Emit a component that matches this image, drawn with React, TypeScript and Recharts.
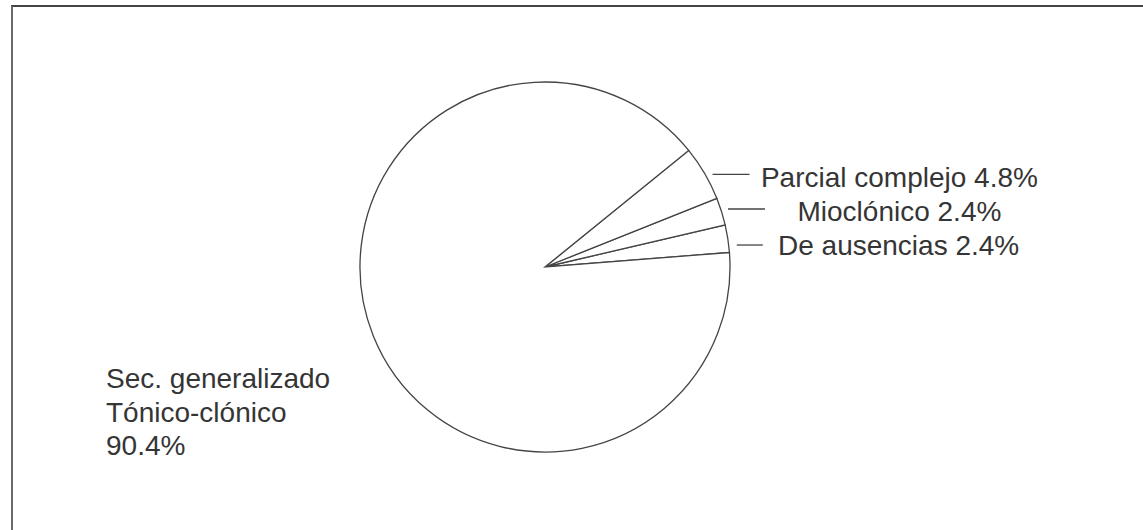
import React from 'react';
import { PieChart, Pie, Cell } from 'recharts';

const categories = ['De ausencias', 'Mioclónico', 'Parcial complejo', 'Sec. generalizado Tónico-clónico'];
const values = [2.4, 2.4, 4.8, 90.4];
const bigLabelLines = ['Sec. generalizado', 'Tónico-clónico', '90.4%'];

const data = categories.map((name, i) => ({ name, value: values[i] }));

const RADIAN = Math.PI / 180;
const FONT = '"Liberation Sans", Arial, Helvetica, sans-serif';
const TEXT = '#353535';
const FS = 28;

// label offsets relative to the slice's mid-point on the circle
const smallLayout: Record<number, { dy: number; x1: number; x2: number; tx: number; by: number }> = {
  0: { dy: 6.4, x1: 9, x2: 35, tx: 50.2, by: 16.4 },
  1: { dy: -2.5, x1: 6.5, x2: 43.5, tx: 76, by: 9.8 },
  2: { dy: 1, x1: 8, x2: 45, tx: 56.4, by: 13.4 },
};

const renderLabel = (props: any) => {
  const { cx, cy, midAngle, outerRadius, index, name, value } = props;
  if (index === 3) {
    const x = cx - outerRadius - 254;
    const y = cy + 121;
    return (
      <text x={x} y={y} fill={TEXT} fontFamily={FONT} fontSize={FS} textAnchor="start">
        {bigLabelLines.map((l, i) => (
          <tspan key={i} x={x} dy={i === 0 ? 0 : 33.5}>{l}</tspan>
        ))}
      </text>
    );
  }
  const px = cx + outerRadius * Math.cos(-midAngle * RADIAN);
  const py = cy + outerRadius * Math.sin(-midAngle * RADIAN);
  const L = smallLayout[index];
  const ly = py + L.dy;
  return (
    <g>
      <line x1={px + L.x1} y1={ly} x2={px + L.x2} y2={ly} stroke="#444" strokeWidth={1.3} />
      <text x={px + L.tx} y={py + L.by} fill={TEXT} fontFamily={FONT} fontSize={FS} textAnchor="start">
        {`${name} ${value}%`}
      </text>
    </g>
  );
};

export default function App() {
  return (
    <div style={{ position: 'absolute', left: 0, top: 0, width: 1143, height: 530, background: '#fff' }}>
      <div
        style={{
          position: 'absolute',
          left: 11,
          top: 5,
          width: 1132,
          height: 525,
          borderTop: '2px solid #444',
          borderLeft: '2px solid #6a6a6a',
          boxSizing: 'border-box',
        }}
      />
      <div style={{ position: 'absolute', left: 0, top: 0 }}>
        <PieChart width={1143} height={530}>
          <Pie
            data={data}
            dataKey="value"
            nameKey="name"
            cx={540}
            cy={262}
            outerRadius={185}
            startAngle={4.5}
            endAngle={364.5}
            isAnimationActive={false}
            label={renderLabel}
            labelLine={false}
            stroke="#444"
            strokeWidth={1.3}
          >
            {data.map((d, i) => (
              <Cell key={i} fill="#fff" stroke="#444" strokeWidth={1.3} />
            ))}
          </Pie>
        </PieChart>
      </div>
    </div>
  );
}
